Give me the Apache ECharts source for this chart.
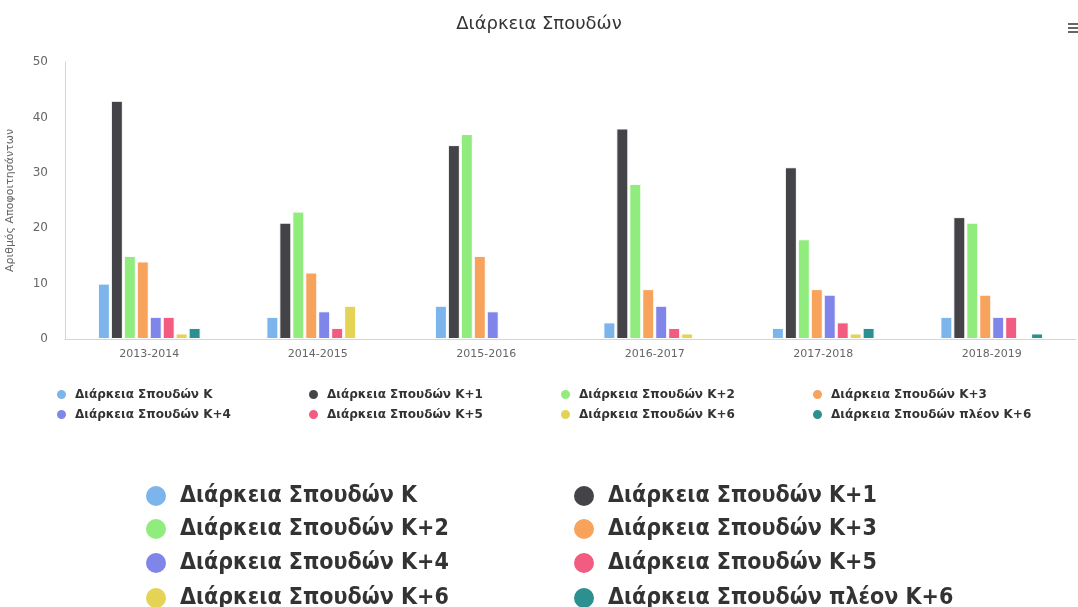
<!DOCTYPE html>
<html>
<head>
<meta charset="utf-8">
<script src="https://cdn.jsdelivr.net/npm/echarts@6/dist/echarts.min.js"></script>
<style>
  html, body { margin: 0; padding: 0; background: #fff; }
  #chart { width: 1078px; height: 607px; }
</style>
</head>
<body>
<div id="chart"></div>
<script>
var years = ['2013-2014', '2014-2015', '2015-2016', '2016-2017', '2017-2018', '2018-2019'];
var names = ['Διάρκεια Σπουδών K', 'Διάρκεια Σπουδών K+1', 'Διάρκεια Σπουδών K+2', 'Διάρκεια Σπουδών K+3',
  'Διάρκεια Σπουδών K+4', 'Διάρκεια Σπουδών K+5', 'Διάρκεια Σπουδών K+6', 'Διάρκεια Σπουδών πλέον K+6'];
var colors = ['#7cb5ec', '#434348', '#90ed7d', '#f7a35c', '#8085e9', '#f15c80', '#e4d354', '#2b908f'];

var k0 = [10, 4, 6, 3, 2, 4];
var k1 = [43, 21, 35, 38, 31, 22];
var k2 = [15, 23, 37, 28, 18, 21];
var k3 = [14, 12, 15, 9, 9, 8];
var k4 = [4, 5, 5, 6, 8, 4];
var k5 = [4, 2, 0, 2, 3, 4];
var k6 = [1, 6, 0, 1, 1, 0];
var kMore = [2, 0, 0, 0, 2, 1];
var values = [k0, k1, k2, k3, k4, k5, k6, kMore];

var chart = echarts.init(document.getElementById('chart'));

var series = [];
for (var i = 0; i < names.length; i++) {
  series.push({
    name: names[i],
    type: 'bar',
    barWidth: 12,
    barGap: '8%',
    itemStyle: { color: colors[i], borderColor: '#fff', borderWidth: 1 },
    data: values[i].map(function (v) { return v === 0 ? null : v; })
  });
}

// small legend: 4 columns of 2 rows
function smallLegend(idx, left) {
  return {
    orient: 'vertical', left: left, top: 383,
    icon: 'circle', itemWidth: 11, itemHeight: 11, itemGap: 7,
    textStyle: { fontSize: 12, fontWeight: 'bold', color: '#333', fontFamily: 'DejaVu Sans', padding: [0, 0, 0, 3] },
    data: idx.map(function (j) { return names[j]; })
  };
}
// big legend: one item per legend, 2 columns x 4 rows
var bigRows = [484, 517, 551, 586];
function bigLegend(j) {
  return {
    left: j % 2 === 0 ? 144 : 572,
    top: bigRows[Math.floor(j / 2)],
    padding: 0,
    icon: 'circle', itemWidth: 22, itemHeight: 22,
    textStyle: { fontSize: 23, fontWeight: 'bold', color: '#333', fontFamily: 'DejaVu Sans Condensed', padding: [0, 0, 0, 8] },
    data: [names[j]]
  };
}

var legends = [
  smallLegend([0, 4], 50),
  smallLegend([1, 5], 302),
  smallLegend([2, 6], 554),
  smallLegend([3, 7], 806)
];
for (var j = 0; j < names.length; j++) {
  legends.push(bigLegend(j));
}

var option = {
  backgroundColor: '#fff',
  animation: false,
  title: {
    text: 'Διάρκεια Σπουδών',
    left: 'center', top: 10,
    textStyle: { fontSize: 18, fontWeight: 'normal', color: '#333', fontFamily: 'DejaVu Sans' }
  },
  legend: legends,
  grid: { left: 65, right: 2, top: 62, bottom: 268, outerBoundsMode: 'none' },
  xAxis: {
    type: 'category',
    data: years,
    axisLine: { lineStyle: { color: '#ccd6eb' } },
    axisTick: { show: false },
    axisLabel: { color: '#666', fontSize: 11, margin: 10, fontFamily: 'DejaVu Sans' }
  },
  yAxis: {
    type: 'value',
    min: 0, max: 50, interval: 10,
    name: 'Αριθμός Αποφοιτησάντων',
    nameLocation: 'middle',
    nameGap: 49,
    nameTextStyle: { color: '#666', fontSize: 11, fontFamily: 'DejaVu Sans' },
    axisLine: { show: true, lineStyle: { color: '#ccd6eb' } },
    axisTick: { show: false },
    splitLine: { show: false },
    axisLabel: { color: '#666', fontSize: 12, margin: 17, fontFamily: 'DejaVu Sans' }
  },
  graphic: [
    { type: 'rect', left: 1068, top: 23, shape: { width: 10, height: 2 }, style: { fill: '#666' } },
    { type: 'rect', left: 1068, top: 27, shape: { width: 10, height: 2 }, style: { fill: '#666' } },
    { type: 'rect', left: 1068, top: 31, shape: { width: 10, height: 2 }, style: { fill: '#666' } }
  ],
  series: series
};

chart.setOption(option);
</script>
</body>
</html>
